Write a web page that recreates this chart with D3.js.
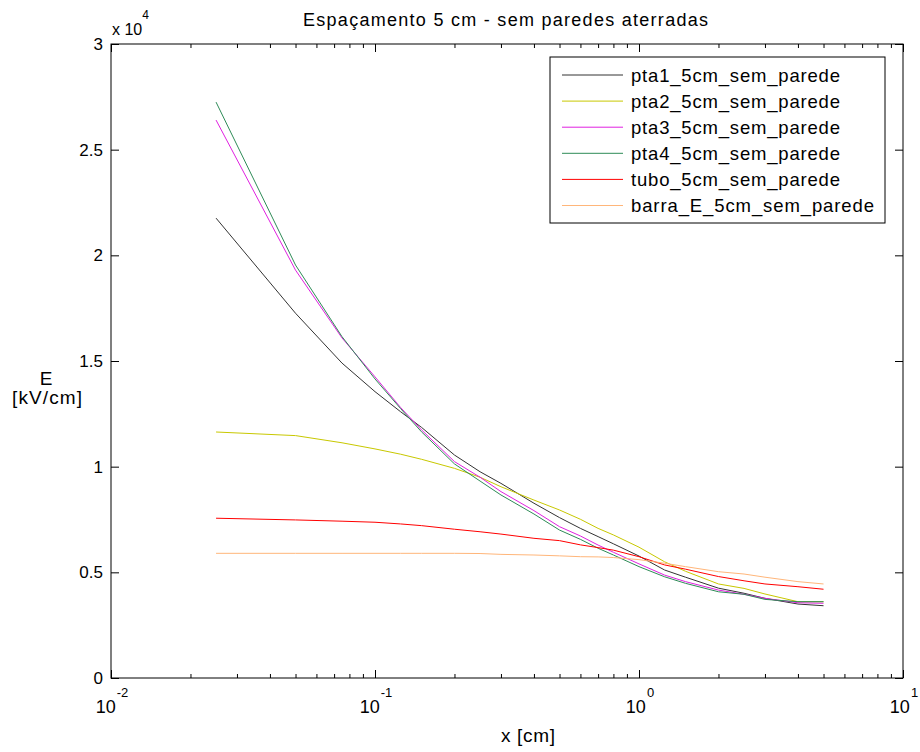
<!DOCTYPE html>
<html>
<head>
<meta charset="utf-8">
<script src="https://cdn.jsdelivr.net/npm/d3@7"></script>
<style>
  body { margin: 0; background: #fff; }
  svg { font-family: "Liberation Sans", Arial, sans-serif; }
</style>
</head>
<body>
<svg width="920" height="752"></svg>
<script>
// distances along x [cm]
const xs = [0.025, 0.05, 0.075, 0.1, 0.125, 0.15, 0.2, 0.25, 0.3, 0.4, 0.5, 0.6, 0.7, 0.8, 1.0, 1.25, 1.5, 2, 2.5, 3, 4, 5];

// E [kV/cm] for each curve
const pta1 = [21760, 17260, 14900, 13550, 12600, 11860, 10550, 9760, 9210, 8270, 7590, 7080, 6690, 6350, 5770, 5110, 4770, 4250, 4010, 3770, 3500, 3420];
const pta2 = [11640, 11470, 11130, 10840, 10590, 10350, 9920, 9500, 9050, 8420, 7950, 7510, 7080, 6770, 6190, 5500, 5050, 4450, 4240, 3975, 3610, 3610];
const pta3 = [26400, 19300, 16090, 14250, 12800, 11740, 10240, 9500, 8820, 7920, 7160, 6720, 6290, 5950, 5400, 4870, 4560, 4160, 3960, 3770, 3560, 3535];
const pta4 = [27250, 19540, 16150, 14150, 12750, 11650, 10130, 9320, 8660, 7760, 7000, 6560, 6140, 5820, 5270, 4790, 4480, 4080, 3960, 3720, 3610, 3610];
const tubo = [7560, 7480, 7420, 7370, 7290, 7210, 7040, 6920, 6810, 6610, 6500, 6300, 6170, 6050, 5740, 5350, 5150, 4800, 4600, 4450, 4320, 4200];
const barra = [5900, 5900, 5900, 5900, 5900, 5900, 5900, 5890, 5850, 5820, 5780, 5740, 5730, 5700, 5600, 5430, 5270, 5030, 4920, 4770, 4560, 4450];

const names = ["pta1_5cm_sem_parede", "pta2_5cm_sem_parede", "pta3_5cm_sem_parede", "pta4_5cm_sem_parede", "tubo_5cm_sem_parede", "barra_E_5cm_sem_parede"];
const colors = ["#333333", "#c8c800", "#e020e0", "#2e8b57", "#ff0000", "#ffb67a"];
const series = [pta1, pta2, pta3, pta4, tubo, barra];

const yTicks = [0, 5000, 10000, 15000, 20000, 25000, 30000];
const yTickLabels = ["0", "0.5", "1", "1.5", "2", "2.5", "3"];
const xMajor = [0.01, 0.1, 1, 10];
const xExponents = ["-2", "-1", "0", "1"];

let svg = d3.select("svg");

let x = d3.scaleLog().domain([0.01, 10]).range([111, 903]);
let y = d3.scaleLinear().domain([0, 30000]).range([678, 44]);

// minor ticks of the log axis
let xMinor = [];
[0.01, 0.1, 1].forEach(d => { for (let k = 2; k <= 9; k++) xMinor.push(d * k); });

function clean(g) {
  g.select(".domain").remove();
  g.selectAll(".tick line").attr("stroke", "#000");
}

svg.append("g").attr("transform", "translate(0,678)")
  .call(d3.axisBottom(x).tickValues(xMinor).tickSize(-4).tickFormat(""))
  .call(clean);
svg.append("g").attr("transform", "translate(0,678)")
  .call(d3.axisBottom(x).tickValues(xMajor).tickSize(-8).tickFormat(""))
  .call(clean);
svg.append("g").attr("transform", "translate(0,44)")
  .call(d3.axisTop(x).tickValues(xMinor).tickSize(-4).tickFormat(""))
  .call(clean);
svg.append("g").attr("transform", "translate(0,44)")
  .call(d3.axisTop(x).tickValues(xMajor).tickSize(-8).tickFormat(""))
  .call(clean);

svg.append("g").attr("transform", "translate(111,0)")
  .call(d3.axisLeft(y).tickValues(yTicks).tickSize(-8).tickPadding(8)
    .tickFormat((d, i) => yTickLabels[i]))
  .call(clean)
  .selectAll("text")
  .attr("font-size", 17)
  .attr("font-family", "Liberation Sans, Arial, sans-serif")
  .attr("fill", "#000");
svg.append("g").attr("transform", "translate(903,0)")
  .call(d3.axisRight(y).tickValues(yTicks).tickSize(-8).tickFormat(""))
  .call(clean);

// x tick labels 10^n
let xl = svg.append("g").selectAll("text")
  .data(xMajor)
  .enter()
  .append("text")
  .attr("x", d => x(d) + 1)
  .attr("y", 713)
  .attr("text-anchor", "middle")
  .attr("font-size", 18);
xl.append("tspan").text("10");
xl.append("tspan").attr("dx", 1).attr("dy", -16).attr("font-size", 13).text((d, i) => xExponents[i]);

// plot box
svg.append("rect")
  .attr("x", 111).attr("y", 44)
  .attr("width", 792).attr("height", 634)
  .attr("fill", "none")
  .attr("stroke", "#000")
  .attr("stroke-width", 1);

// curves
let line = d3.line()
  .x((d, i) => x(xs[i]))
  .y(d => y(d));

svg.append("g")
  .selectAll("path")
  .data(series)
  .enter()
  .append("path")
  .attr("d", d => line(d))
  .attr("fill", "none")
  .attr("stroke", (d, i) => colors[i])
  .attr("stroke-width", 1);

// multiplier
let mult = svg.append("text").attr("x", 112).attr("y", 35).attr("font-size", 16);
mult.append("tspan").text("x 10");
mult.append("tspan").attr("dy", -16).attr("font-size", 12).text("4");

// title and axis labels
svg.append("text")
  .attr("x", 303).attr("y", 26)
  .attr("font-size", 18)
  .attr("textLength", 405)
  .attr("lengthAdjust", "spacing")
  .text("Espaçamento 5 cm - sem paredes aterradas");

svg.append("text")
  .attr("x", 501).attr("y", 742)
  .attr("font-size", 19)
  .attr("textLength", 54)
  .attr("lengthAdjust", "spacing")
  .text("x [cm]");

svg.append("text").attr("x", 46).attr("y", 385)
  .attr("text-anchor", "middle").attr("font-size", 19).text("E");
svg.append("text").attr("x", 12).attr("y", 404)
  .attr("font-size", 19)
  .attr("textLength", 70)
  .attr("lengthAdjust", "spacing")
  .text("[kV/cm]");

// legend
let legend = svg.append("g");
legend.append("rect")
  .attr("x", 550).attr("y", 57)
  .attr("width", 335).attr("height", 166)
  .attr("fill", "#fff")
  .attr("stroke", "#000");

let rows = legend.selectAll("g.row")
  .data(names)
  .enter()
  .append("g")
  .attr("class", "row")
  .attr("transform", (d, i) => "translate(0," + (75 + i * 26.1) + ")");
rows.append("line")
  .attr("x1", 562).attr("x2", 623)
  .attr("y1", 0).attr("y2", 0)
  .attr("stroke", (d, i) => colors[i])
  .attr("stroke-width", 1);
rows.append("text")
  .attr("x", 631).attr("y", 6.5)
  .attr("font-size", 18.5)
  .attr("textLength", d => d.length === 19 ? 209 : 243)
  .attr("lengthAdjust", "spacing")
  .text(d => d);
</script>
</body>
</html>
